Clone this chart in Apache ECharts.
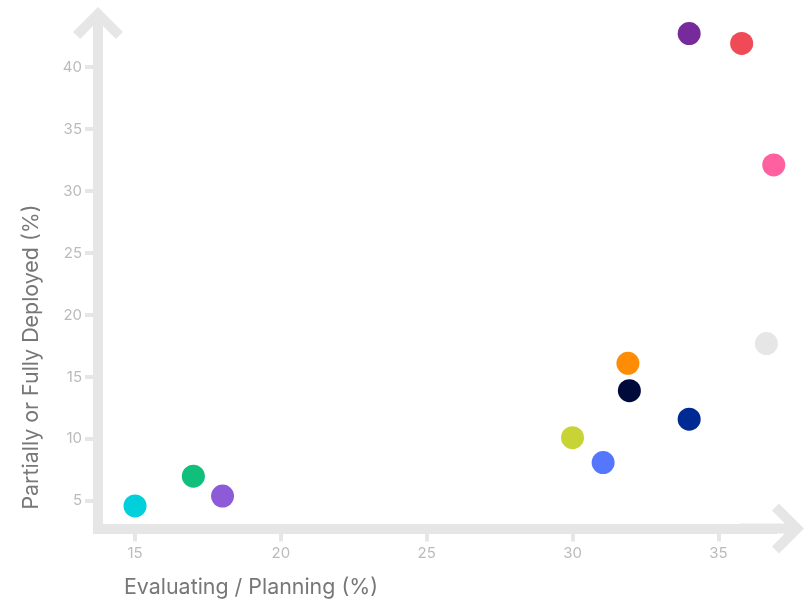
<!DOCTYPE html>
<html>
<head>
<meta charset="utf-8">
<title>Evaluating vs Deployed</title>
<script src="https://cdn.jsdelivr.net/npm/echarts@6/dist/echarts.min.js"></script>
<style>
  html, body { margin: 0; padding: 0; background: #fff; }
  #chart { width: 804px; height: 601px; }
</style>
</head>
<body>
<div id="chart"></div>
<script>
// x: Evaluating / Planning (%), y: Partially or Fully Deployed (%)
const evaluating = [15, 17, 18, 30, 31.05, 31.9, 31.95, 34, 36.65, 34, 35.8, 36.9]
const deployed = [4.6, 7.0, 5.4, 10.1, 8.1, 16.1, 13.9, 11.6, 17.7, 42.7, 41.9, 32.1]
const dotColors = ['#00cfdc', '#10bf7a', '#8e5bd8', '#c8d435', '#5577fd', '#ff8c05',
  '#000a3b', '#002a93', '#e6e6e6', '#762a9b', '#ef4a55', '#ff60a0']
const xTicks = [15, 20, 25, 30, 35]
const yTicks = [5, 10, 15, 20, 25, 30, 35, 40]

// chevron arrow with a short stem, pointing up (echarts rotates it along the axis)
const arrow = 'path://M25 0 L50 25 L42.9 32.1 L30 19.1 L30 64 L20 64 L20 19.1 L7.1 32.1 L0 25 Z'
const axisGray = '#e6e6e6'

function axisCommon (ticks, margin) {
  return {
    type: 'value',
    splitLine: { show: false },
    axisLine: {
      show: true,
      symbol: ['none', arrow],
      symbolSize: [50, 64],
      lineStyle: { color: axisGray, width: 10, cap: 'square' }
    },
    axisTick: {
      show: true,
      length: 13,
      customValues: ticks,
      lineStyle: { color: axisGray, width: 4 }
    },
    axisLabel: {
      customValues: ticks,
      color: '#bbbbbb',
      fontSize: 15,
      fontFamily: 'Inter',
      margin: margin
    }
  }
}

const chart = echarts.init(document.getElementById('chart'))
const option = {
  animation: false,
  textStyle: { fontFamily: 'Inter' },
  grid: { left: 98, right: 32, top: 39, bottom: 72.5, containLabel: false, outerBoundsMode: 'none' },
  xAxis: Object.assign(axisCommon(xTicks, 17), { min: 13.73, max: 36.84 }),
  yAxis: Object.assign(axisCommon(yTicks, 16), { min: 2.78, max: 42.26 }),
  graphic: [
    {
      type: 'text',
      x: 251,
      y: 588,
      style: {
        text: 'Evaluating / Planning (%)',
        fill: '#777777',
        font: '21.4px Inter',
        textAlign: 'center',
        textVerticalAlign: 'middle'
      }
    },
    {
      type: 'text',
      x: 32,
      y: 357,
      rotation: Math.PI / 2,
      style: {
        text: 'Partially or Fully Deployed (%)',
        fill: '#777777',
        font: '21.4px Inter',
        textAlign: 'center',
        textVerticalAlign: 'middle'
      }
    }
  ],
  series: [
    {
      type: 'scatter',
      clip: false,
      symbolSize: 23,
      itemStyle: {
        opacity: 1,
        color: (p) => dotColors[p.dataIndex]
      },
      data: evaluating.map((x, i) => [x, deployed[i]])
    }
  ]
}
chart.setOption(option)
</script>
</body>
</html>
